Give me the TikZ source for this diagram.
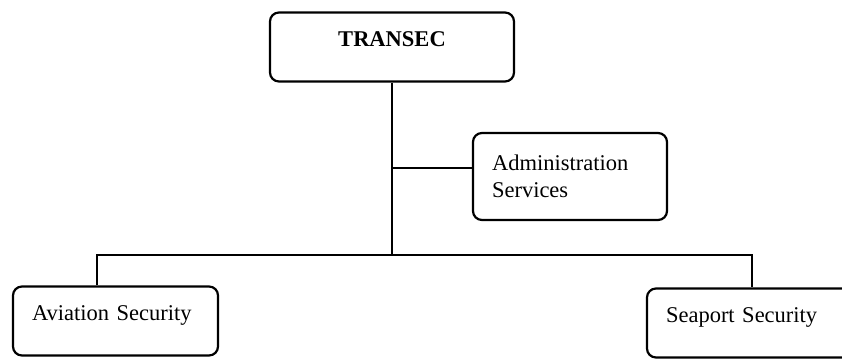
\documentclass[tikz,border=0pt]{standalone}
\usepackage{fontspec}
\setmainfont{Liberation Serif}
\usetikzlibrary{positioning}
\tikzset{box/.style={draw, line width=2.2pt, rounded corners=9pt, align=left,
		font=\fontsize{22.5}{27}\selectfont, inner xsep=19pt, inner ysep=0pt},
	oneline/.style={text height=34pt, text depth=35pt},
	link/.style={line width=2pt}}

\begin{document}
\begin{tikzpicture}[x=1pt, y=-1pt]
			\clip (0,0) rectangle (842,360);
			\node[box, oneline, align=center, text width=206pt,
				font=\fontsize{22.5}{27}\selectfont\bfseries] (T) at (392,47) {TRANSEC};
			\node[box, text width=156pt, minimum height=87pt] (A) at (570,176.5) {Administration\\Services};
			\node[box, oneline, text width=167pt] (V) at (115.5,321) {Aviation Security};
			\node[box, oneline, text width=167pt] (S) at (749.5,323) {Seaport Security};
			%\node (J) [below of=T] {};
			\coordinate (J) 	at (392,255);
			\coordinate (Ja) 	at (392,168);
			\coordinate (Jv) 	at (97,255);
			\coordinate (Js) 	at (752,255);
			\draw[link]		(T.south)	-- (J);
			\draw[link]		(Ja)		-- (A.west |- Ja);
			\draw[link]		(V.north -| Jv)	-- (Jv) -- (Js) -- (S.north -| Js);
\end{tikzpicture}
\end{document}
